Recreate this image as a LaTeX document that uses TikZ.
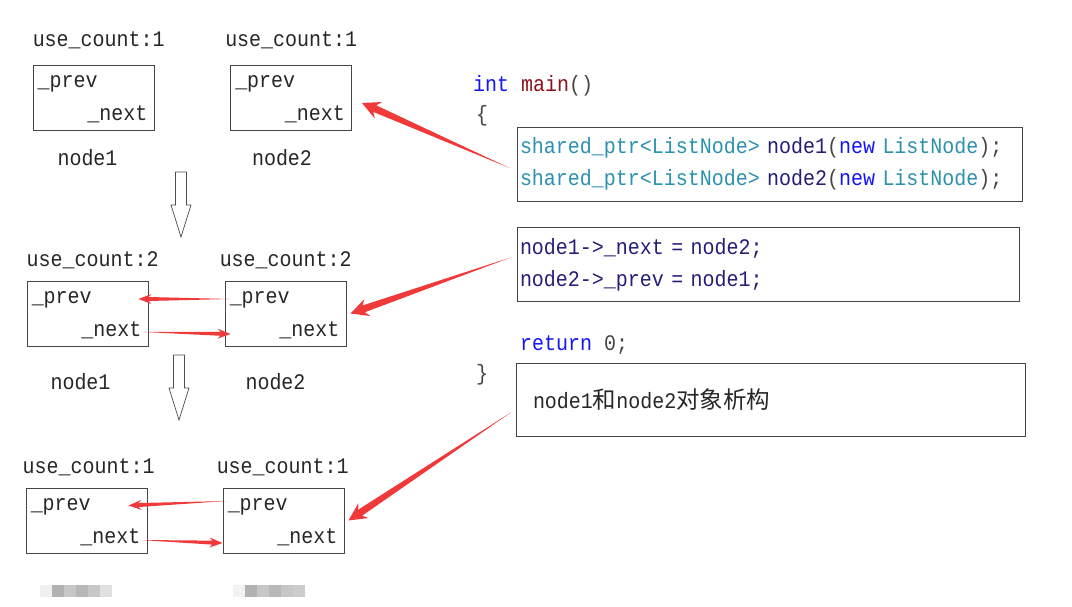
\documentclass[tikz,border=0pt]{standalone}
\usepackage{fontspec}
\setmainfont{Liberation Mono}[FakeStretch=0.9]
\newfontfamily\cjk{Noto Sans CJK SC}
\usepackage{tikz}
\usetikzlibrary{positioning,calc}

\definecolor{kwblue}{RGB}{20,20,245}
\definecolor{fnred}{RGB}{140,20,30}
\definecolor{tyteal}{RGB}{43,145,175}
\definecolor{varnavy}{RGB}{35,30,120}
\definecolor{pungray}{RGB}{70,70,70}
\definecolor{arrowred}{RGB}{240,58,58}
\definecolor{boxgray}{RGB}{70,70,70}

% tapered red arrow: tail, tip, head length, head half width
\newcommand\redarrow[4]{%
  \fill[arrowred] (#1)
    -- ($(#2)!0.78*#3!(#1)!0.4*#4!90:(#1)$)
    -- ($(#2)!#3!(#1)!#4!90:(#1)$)
    -- (#2)
    -- ($(#2)!#3!(#1)!#4!-90:(#1)$)
    -- ($(#2)!0.78*#3!(#1)!0.4*#4!-90:(#1)$)
    -- cycle;}

\begin{document}
\begin{tikzpicture}[
  x=1pt, y=-1pt,
  font=\fontsize{22.2}{32}\selectfont,
  obj/.style={draw=boxgray, line width=0.9pt, inner sep=0pt,
              minimum width=121pt, minimum height=65pt},
  fld/.style={inner sep=0pt, text=black!85},
  cnt/.style={inner sep=0pt, text=black!85, anchor=base west},
  tag/.style={inner sep=0pt, text=black!85, anchor=base},
  codebox/.style={draw=boxgray, line width=0.9pt, align=left,
                  inner xsep=3pt, inner ysep=0pt, minimum height=74pt},
  src/.style={inner sep=0pt, anchor=base west},
  hollow/.pic={\draw[line width=0.7pt, draw=black!70, fill=white]
    (-5.5,0) -- (5.5,0) -- (5.5,33) -- (10,33) -- (0,65)
    -- (-10,33) -- (-5.5,33) -- cycle;},
]
\useasboundingbox (0,0) rectangle (1072,607);

% step 1
\node[obj] (n1a) at (93.5,97.5) {};
\node[obj] (n2a) at (291,97.5) {};
\node[cnt, above=18pt of n1a.north west, anchor=base west] (c1a) {use\_count:1};
\node[cnt, above=18pt of n2a.north west, anchor=base west, xshift=-5pt] (c2a) {use\_count:1};
\node[fld, anchor=base west] (p1a) at ([xshift=5pt,yshift=-23pt]n1a.north west) {\_prev};
\node[fld, anchor=base east] (x1a) at ([xshift=-7pt,yshift=10pt]n1a.south east) {\_next};
\node[fld, anchor=base west] (p2a) at ([xshift=5pt,yshift=-23pt]n2a.north west) {\_prev};
\node[fld, anchor=base east] (x2a) at ([xshift=-7pt,yshift=10pt]n2a.south east) {\_next};
\node[tag, below=35pt of n1a.south, anchor=base, xshift=-6pt] (t1a) {node1};
\node[tag, below=35pt of n2a.south, anchor=base, xshift=-9pt] (t2a) {node2};
\pic at (181,172) {hollow};

% step 2
\node[obj] (n1b) at (87.5,313.5) {};
\node[obj] (n2b) at (285.5,313.5) {};
\node[cnt, above=14pt of n1b.north west, anchor=base west] (c1b) {use\_count:2};
\node[cnt, above=14pt of n2b.north west, anchor=base west, xshift=-5pt] (c2b) {use\_count:2};
\node[fld, anchor=base west] (p1b) at ([xshift=5pt,yshift=-23pt]n1b.north west) {\_prev};
\node[fld, anchor=base east] (x1b) at ([xshift=-7pt,yshift=10pt]n1b.south east) {\_next};
\node[fld, anchor=base west] (p2b) at ([xshift=5pt,yshift=-23pt]n2b.north west) {\_prev};
\node[fld, anchor=base east] (x2b) at ([xshift=-7pt,yshift=10pt]n2b.south east) {\_next};
\node[tag, below=43pt of n1b.south, anchor=base, xshift=-7pt] (t1b) {node1};
\node[tag, below=43pt of n2b.south, anchor=base, xshift=-10pt] (t2b) {node2};
\pic at (179,355) {hollow};

% step 3
\node[obj] (n1c) at (86.5,520.5) {};
\node[obj] (n2c) at (283.5,520.5) {};
\node[cnt, above=14pt of n1c.north west, anchor=base west, xshift=-3pt] (c1c) {use\_count:1};
\node[cnt, above=14pt of n2c.north west, anchor=base west, xshift=-6pt] (c2c) {use\_count:1};
\node[fld, anchor=base west] (p1c) at ([xshift=5pt,yshift=-23pt]n1c.north west) {\_prev};
\node[fld, anchor=base east] (x1c) at ([xshift=-7pt,yshift=10pt]n1c.south east) {\_next};
\node[fld, anchor=base west] (p2c) at ([xshift=5pt,yshift=-23pt]n2c.north west) {\_prev};
\node[fld, anchor=base east] (x2c) at ([xshift=-7pt,yshift=10pt]n2c.south east) {\_next};
% blurred names
\foreach \x/\g in {40/6,52/30,64/22,76/28,88/22,100/12}
  \fill[black!\g] (\x,585) rectangle ++(12,12);
\foreach \x/\g in {233/5,245/30,257/22,269/28,281/22,293/20}
  \fill[black!\g] (\x,585) rectangle ++(12,12);

% code
\node[src] (sig) at (473,92) {\textcolor{kwblue}{int} \textcolor{fnred}{main}\textcolor{pungray}{()}};
\node[src, text=pungray] (lbr) at (476,122) {\{};
\node[codebox, text width=499pt] (codeA) at (769.5,164)
  {\textcolor{tyteal}{shared\_ptr<ListNode>} \textcolor{varnavy}{node1}\textcolor{pungray}{(}\textcolor{kwblue}{new} \textcolor{tyteal}{ListNode}\textcolor{pungray}{);}\\
   \textcolor{tyteal}{shared\_ptr<ListNode>} \textcolor{varnavy}{node2}\textcolor{pungray}{(}\textcolor{kwblue}{new} \textcolor{tyteal}{ListNode}\textcolor{pungray}{);}};
\node[codebox, text width=496pt, text=varnavy] (codeB) at (768,264.5)
  {node1->\_next = node2;\\node2->\_prev = node1;};
\node[src] (ret) at (520,350) {\textcolor{kwblue}{return} \textcolor{pungray}{0;}};
\node[src, text=pungray] (rbr) at (476,380) {\}};
\node[codebox, inner xsep=17pt, text width=475pt, minimum height=73pt, text=black!85] (codeC) at (770.5,399.5)
  {node1{\cjk\fontsize{23.5}{32}\selectfont 和}node2{\cjk\fontsize{23.5}{32}\selectfont 对象析构}};

% arrows between objects
\coordinate (p2bt) at ([xshift=5pt,yshift=14.5pt]n2b.west);
\coordinate (p2bh) at ([xshift=-10pt,yshift=14.5pt]n1b.east);
\coordinate (x1bt) at ([xshift=-5pt,yshift=-18.5pt]n1b.east);
\coordinate (x1bh) at ([xshift=6pt,yshift=-20.5pt]n2b.west);
\coordinate (p2ct) at ([xshift=4pt,yshift=19.5pt]n2c.west);
\coordinate (p2ch) at ([xshift=-19pt,yshift=15pt]n1c.east);
\coordinate (x1ct) at ([xshift=-7pt,yshift=-19.5pt]n1c.east);
\coordinate (x1ch) at ([xshift=0pt,yshift=-22.5pt]n2c.west);
\redarrow{p2bt}{p2bh}{13pt}{5pt}
\redarrow{x1bt}{x1bh}{13pt}{5pt}
\redarrow{p2ct}{p2ch}{13pt}{5pt}
\redarrow{x1ct}{x1ch}{13pt}{5pt}

% arrows from code to objects
\coordinate (tA) at ([xshift=-7pt,yshift=-4pt]codeA.west);
\coordinate (hA) at ([xshift=10pt,yshift=-5.5pt]n2a.east);
\coordinate (tB) at ([xshift=-6pt,yshift=7pt]codeB.west);
\coordinate (hB) at ([xshift=4pt]n2b.east);
\coordinate (tC) at ([xshift=-4pt,yshift=-12.5pt]codeC.west);
\coordinate (hC) at ([xshift=4pt]n2c.east);
\redarrow{tA}{hA}{18pt}{9pt}
\redarrow{tB}{hB}{18pt}{9pt}
\redarrow{tC}{hC}{18pt}{9pt}

\end{tikzpicture}
\end{document}
